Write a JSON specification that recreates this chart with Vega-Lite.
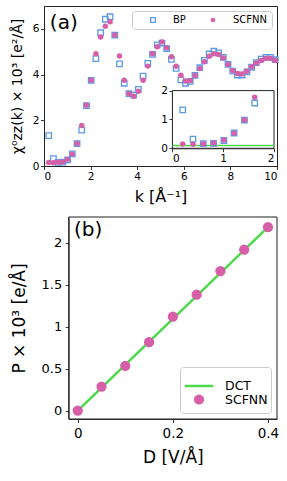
{
  "$schema": "https://vega.github.io/schema/vega-lite/v6.json",
  "padding": {"left": 10, "top": 5, "right": 0, "bottom": 0},
  "background": "white",
  "config": {
    "font": "DejaVu Sans",
    "view": {"stroke": "#222", "strokeWidth": 1},
    "axis": {"grid": false, "domainColor": "#222", "tickColor": "#222", "labelColor": "black", "titleColor": "black", "tickSize": 3.5, "tickWidth": 0.9, "domainWidth": 0.9, "titleFontWeight": "normal", "labelFont": "DejaVu Sans", "titleFont": "DejaVu Sans"},
    "legend": {"labelFont": "DejaVu Sans", "labelColor": "black"}
  },
  "datasets": {
    "chi": [
      {"k": 0.203, "s": "BP", "v": 1.33}, {"k": 0.405, "s": "BP", "v": 0.32}, {"k": 0.608, "s": "BP", "v": 0.16}, {"k": 0.81, "s": "BP", "v": 0.17},
      {"k": 1.013, "s": "BP", "v": 0.27}, {"k": 1.215, "s": "BP", "v": 0.53}, {"k": 1.418, "s": "BP", "v": 0.98}, {"k": 1.62, "s": "BP", "v": 1.57},
      {"k": 1.823, "s": "BP", "v": 2.64}, {"k": 2.025, "s": "BP", "v": 3.75}, {"k": 2.228, "s": "BP", "v": 4.7}, {"k": 2.43, "s": "BP", "v": 5.83},
      {"k": 2.633, "s": "BP", "v": 6.42}, {"k": 2.835, "s": "BP", "v": 6.53}, {"k": 3.038, "s": "BP", "v": 5.73}, {"k": 3.24, "s": "BP", "v": 4.47},
      {"k": 3.443, "s": "BP", "v": 3.62}, {"k": 3.645, "s": "BP", "v": 3.17}, {"k": 3.848, "s": "BP", "v": 3.1}, {"k": 4.05, "s": "BP", "v": 3.35},
      {"k": 4.253, "s": "BP", "v": 3.93}, {"k": 4.455, "s": "BP", "v": 4.49}, {"k": 4.658, "s": "BP", "v": 4.88}, {"k": 4.86, "s": "BP", "v": 5.3},
      {"k": 5.063, "s": "BP", "v": 5.38}, {"k": 5.265, "s": "BP", "v": 5.14}, {"k": 5.468, "s": "BP", "v": 4.66}, {"k": 5.67, "s": "BP", "v": 4.27},
      {"k": 5.873, "s": "BP", "v": 3.77}, {"k": 6.075, "s": "BP", "v": 3.62}, {"k": 6.278, "s": "BP", "v": 3.7}, {"k": 6.48, "s": "BP", "v": 3.96},
      {"k": 6.683, "s": "BP", "v": 4.3}, {"k": 6.885, "s": "BP", "v": 4.62}, {"k": 7.088, "s": "BP", "v": 4.9}, {"k": 7.29, "s": "BP", "v": 5.02},
      {"k": 7.493, "s": "BP", "v": 4.95}, {"k": 7.695, "s": "BP", "v": 4.75}, {"k": 7.898, "s": "BP", "v": 4.45}, {"k": 8.1, "s": "BP", "v": 4.15},
      {"k": 8.303, "s": "BP", "v": 3.98}, {"k": 8.505, "s": "BP", "v": 3.98}, {"k": 8.708, "s": "BP", "v": 4.12}, {"k": 8.91, "s": "BP", "v": 4.32},
      {"k": 9.113, "s": "BP", "v": 4.52}, {"k": 9.315, "s": "BP", "v": 4.68}, {"k": 9.518, "s": "BP", "v": 4.75}, {"k": 9.72, "s": "BP", "v": 4.75},
      {"k": 9.923, "s": "BP", "v": 4.65},
      {"k": 0.203, "s": "SCFNN", "v": 0.15}, {"k": 0.405, "s": "SCFNN", "v": 0.14}, {"k": 0.608, "s": "SCFNN", "v": 0.16}, {"k": 0.81, "s": "SCFNN", "v": 0.18},
      {"k": 1.013, "s": "SCFNN", "v": 0.29}, {"k": 1.215, "s": "SCFNN", "v": 0.52}, {"k": 1.418, "s": "SCFNN", "v": 0.98}, {"k": 1.62, "s": "SCFNN", "v": 1.77},
      {"k": 1.823, "s": "SCFNN", "v": 2.66}, {"k": 2.025, "s": "SCFNN", "v": 3.75}, {"k": 2.228, "s": "SCFNN", "v": 4.91}, {"k": 2.43, "s": "SCFNN", "v": 5.64},
      {"k": 2.633, "s": "SCFNN", "v": 6.11}, {"k": 2.835, "s": "SCFNN", "v": 6.31}, {"k": 3.038, "s": "SCFNN", "v": 5.73}, {"k": 3.24, "s": "SCFNN", "v": 4.81},
      {"k": 3.443, "s": "SCFNN", "v": 3.75}, {"k": 3.645, "s": "SCFNN", "v": 3.17}, {"k": 3.848, "s": "SCFNN", "v": 3.05}, {"k": 4.05, "s": "SCFNN", "v": 3.27},
      {"k": 4.253, "s": "SCFNN", "v": 3.75}, {"k": 4.455, "s": "SCFNN", "v": 4.37}, {"k": 4.658, "s": "SCFNN", "v": 4.91}, {"k": 4.86, "s": "SCFNN", "v": 5.22},
      {"k": 5.063, "s": "SCFNN", "v": 5.43}, {"k": 5.265, "s": "SCFNN", "v": 5.17}, {"k": 5.468, "s": "SCFNN", "v": 4.78}, {"k": 5.67, "s": "SCFNN", "v": 4.36},
      {"k": 5.873, "s": "SCFNN", "v": 3.97}, {"k": 6.075, "s": "SCFNN", "v": 3.72}, {"k": 6.278, "s": "SCFNN", "v": 3.73}, {"k": 6.48, "s": "SCFNN", "v": 3.96},
      {"k": 6.683, "s": "SCFNN", "v": 4.27}, {"k": 6.885, "s": "SCFNN", "v": 4.56}, {"k": 7.088, "s": "SCFNN", "v": 4.8}, {"k": 7.29, "s": "SCFNN", "v": 4.91},
      {"k": 7.493, "s": "SCFNN", "v": 4.88}, {"k": 7.695, "s": "SCFNN", "v": 4.73}, {"k": 7.898, "s": "SCFNN", "v": 4.44}, {"k": 8.1, "s": "SCFNN", "v": 4.18},
      {"k": 8.303, "s": "SCFNN", "v": 4.05}, {"k": 8.505, "s": "SCFNN", "v": 4.03}, {"k": 8.708, "s": "SCFNN", "v": 4.15}, {"k": 8.91, "s": "SCFNN", "v": 4.34},
      {"k": 9.113, "s": "SCFNN", "v": 4.51}, {"k": 9.315, "s": "SCFNN", "v": 4.62}, {"k": 9.518, "s": "SCFNN", "v": 4.71}, {"k": 9.72, "s": "SCFNN", "v": 4.71},
      {"k": 9.923, "s": "SCFNN", "v": 4.62}
    ],
    "dct0": [{"k": 0, "v": 0.1}, {"k": 2, "v": 0.1}],
    "dct": [{"D": 0, "P": 0, "s": "DCT"}, {"D": 0.4, "P": 2.19, "s": "DCT"}],
    "pol": [
      {"D": 0, "P": 0, "s": "SCFNN"}, {"D": 0.05, "P": 0.287, "s": "SCFNN"}, {"D": 0.1, "P": 0.535, "s": "SCFNN"},
      {"D": 0.15, "P": 0.817, "s": "SCFNN"}, {"D": 0.2, "P": 1.12, "s": "SCFNN"}, {"D": 0.25, "P": 1.384, "s": "SCFNN"},
      {"D": 0.3, "P": 1.663, "s": "SCFNN"}, {"D": 0.35, "P": 1.92, "s": "SCFNN"}, {"D": 0.4, "P": 2.19, "s": "SCFNN"}
    ]
  },
  "spacing": 11,
  "resolve": {"scale": {"shape": "independent", "fill": "independent", "stroke": "independent", "size": "independent"}, "legend": {"shape": "independent", "fill": "independent", "stroke": "independent", "size": "independent"}},
  "vconcat": [
    {
      "width": 233,
      "height": 160,
      "resolve": {"scale": {"x": "independent", "y": "independent"}},
      "layer": [
        {
          "layer": [
            {
              "data": {"name": "chi"},
              "mark": {"type": "point", "size": 30, "strokeWidth": 1.3, "opacity": 1},
              "encoding": {
                "x": {"field": "k", "type": "quantitative", "scale": {"domain": [0, 10], "nice": false, "zero": false},
                      "axis": {"values": [0, 2, 4, 6, 8, 10], "title": "k [Å⁻¹]", "labelFontSize": 10.5, "titleFontSize": 16, "labelPadding": 2, "titlePadding": 6}},
                "y": {"field": "v", "type": "quantitative", "scale": {"domain": [0, 7], "nice": false},
                      "axis": {"values": [0, 2, 4, 6], "title": "χ⁰zz(k) × 10³ [e²/Å]", "labelFontSize": 10.5, "titleFontSize": 14, "labelPadding": 1.5, "titlePadding": 7.6}},
                "shape": {"field": "s", "type": "nominal", "scale": {"domain": ["BP", "SCFNN"], "range": ["square", "circle"]},
                          "legend": {"title": null, "orient": "top-right", "direction": "horizontal", "offset": 5, "fillColor": "white", "strokeColor": "#cccccc", "cornerRadius": 3, "padding": 4, "symbolOffset": 12, "labelFontSize": 10, "symbolSize": 22, "symbolStrokeWidth": 1.3, "gridAlign": "none", "columnPadding": 10, "labelOffset": 15}},
                "fill": {"field": "s", "type": "nominal", "scale": {"domain": ["BP", "SCFNN"], "range": ["transparent", "#d65fa8"]}},
                "stroke": {"field": "s", "type": "nominal", "scale": {"domain": ["BP", "SCFNN"], "range": ["#5a9be6", "transparent"]}}
              }
            },
            {
              "data": {"values": [{}]},
              "mark": {"type": "text", "fontSize": 20, "align": "left", "baseline": "middle"},
              "encoding": {"x": {"datum": 0.25}, "y": {"datum": 6.25}, "text": {"value": "(a)"}}
            }
          ]
        },
        {
          "layer": [
            {
              "data": {"values": [{}]},
              "mark": {"type": "rect", "fill": "white", "stroke": "#222", "strokeWidth": 1},
              "encoding": {
                "x": {"datum": 0, "type": "quantitative", "scale": {"domain": [0, 2], "range": [128.4, 230], "nice": false, "zero": false},
                      "axis": {"orient": "bottom", "offset": -17.7, "values": [0, 1, 2], "format": "~g", "title": null, "labelFontSize": 10.5, "labelPadding": 2}},
                "x2": {"datum": 2},
                "y": {"datum": 0, "type": "quantitative", "scale": {"domain": [0, 2], "range": [142.3, 84.6], "nice": false, "zero": false},
                      "axis": {"orient": "left", "offset": -128.4, "values": [0, 1, 2], "format": "~g", "title": null, "labelFontSize": 10.5, "labelPadding": 1.5}},
                "y2": {"datum": 2}
              }
            },
            {
              "data": {"name": "dct0"},
              "mark": {"type": "line", "stroke": "#4cd94c", "strokeWidth": 1.5},
              "encoding": {"x": {"field": "k", "type": "quantitative"}, "y": {"field": "v", "type": "quantitative"}}
            },
            {
              "data": {"name": "chi"},
              "transform": [{"filter": "datum.k < 1.7"}],
              "mark": {"type": "point", "size": 30, "strokeWidth": 1.3, "opacity": 1},
              "encoding": {
                "x": {"field": "k", "type": "quantitative"},
                "y": {"field": "v", "type": "quantitative"},
                "shape": {"field": "s", "type": "nominal"},
                "fill": {"field": "s", "type": "nominal"},
                "stroke": {"field": "s", "type": "nominal"}
              }
            }
          ]
        }
      ]
    },
    {
      "width": 233,
      "height": 202,
      "view": {"stroke": null},
      "layer": [
        {
          "data": {"values": [{}]},
          "mark": {"type": "rect", "fill": "transparent", "stroke": "#222", "strokeWidth": 1},
          "encoding": {
            "x": {"datum": -0.019, "type": "quantitative", "scale": {"domain": [-0.019, 0.419], "range": [24.7, 233], "nice": false, "zero": false},
                  "axis": {"values": [0, 0.2, 0.4], "format": "~g", "title": "D [V/Å]", "labelFontSize": 13.5, "titleFontSize": 17, "labelPadding": 4, "titlePadding": 9}},
            "x2": {"datum": 0.419},
            "y": {"datum": -0.1, "type": "quantitative", "scale": {"domain": [-0.1, 2.31], "nice": false, "zero": false},
                  "axis": {"orient": "left", "offset": -24.7, "values": [0, 0.5, 1, 1.5, 2], "format": "~g", "title": "P × 10³ [e/Å]", "labelFontSize": 13, "titleFontSize": 17, "labelPadding": 3.5, "titlePadding": 13}},
            "y2": {"datum": 2.31}
          }
        },
        {
          "data": {"name": "dct"},
          "mark": {"type": "line", "strokeWidth": 2.5},
          "encoding": {
            "x": {"field": "D", "type": "quantitative"},
            "y": {"field": "P", "type": "quantitative"},
            "stroke": {"field": "s", "type": "nominal", "scale": {"domain": ["DCT", "SCFNN"], "range": ["#4cd94c", "transparent"]}}
          }
        },
        {
          "data": {"name": "pol"},
          "mark": {"type": "point", "opacity": 1, "strokeWidth": 1},
          "encoding": {
            "x": {"field": "D", "type": "quantitative"},
            "y": {"field": "P", "type": "quantitative"},
            "shape": {"field": "s", "type": "nominal", "scale": {"domain": ["DCT", "SCFNN"], "range": ["stroke", "circle"]},
                      "legend": {"title": null, "orient": "bottom-right", "offset": 6, "fillColor": "white", "strokeColor": "#cccccc", "cornerRadius": 3, "padding": 3, "labelFontSize": 12.5, "symbolStrokeWidth": 2.5, "labelOffset": 10, "rowPadding": -8}},
            "fill": {"field": "s", "type": "nominal", "scale": {"domain": ["DCT", "SCFNN"], "range": ["transparent", "#d65fa8"]}},
            "stroke": {"field": "s", "type": "nominal"},
            "size": {"field": "s", "type": "nominal", "scale": {"domain": ["DCT", "SCFNN"], "range": [820, 105]}}
          }
        },
        {
          "data": {"values": [{}]},
          "mark": {"type": "text", "fontSize": 20, "align": "left", "baseline": "middle"},
          "encoding": {"x": {"datum": -0.008}, "y": {"datum": 2.16}, "text": {"value": "(b)"}}
        }
      ]
    }
  ]
}
